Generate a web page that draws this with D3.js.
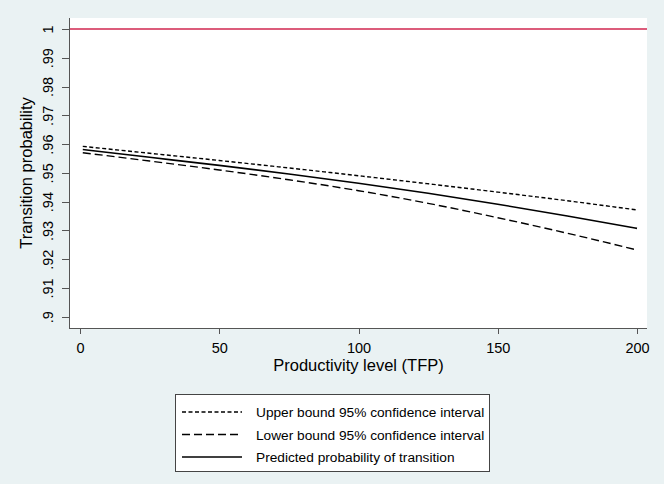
<!DOCTYPE html>
<html lang="en">
<head>
    <meta charset="UTF-8">
    <title>Transition probability</title>
    <script src="https://d3js.org/d3.v7.min.js"></script>
    <style>
        body {
            margin: 0;
            padding: 0;
            background: #eaf2f3;
            font-family: "Liberation Sans", Arial, sans-serif;
        }
        svg {
            display: block;
        }
        .axis path,
        .axis line {
            stroke: #555;
            shape-rendering: crispEdges;
        }
        .axis text {
            font-family: "Liberation Sans", Arial, sans-serif;
            font-size: 14.5px;
            fill: #000;
        }
        .label {
            font-size: 16.5px;
            text-anchor: middle;
        }
    </style>
</head>
<body>
    <svg width="664" height="484"></svg>

    <script>
        const tfp = [1, 25, 50, 75, 100, 125, 150, 175, 200];
        const upper = [0.9592, 0.9568, 0.9543, 0.9517, 0.9490, 0.9462, 0.9433, 0.9403, 0.9371];
        const lower = [0.9570, 0.9541, 0.9510, 0.9476, 0.9438, 0.9394, 0.9344, 0.9290, 0.9232];
        const predicted = [0.9581, 0.9554, 0.9526, 0.9496, 0.9464, 0.9429, 0.9391, 0.9350, 0.9307];

        const xTicks = [0, 50, 100, 150, 200];
        const yTicks = [0.9, 0.91, 0.92, 0.93, 0.94, 0.95, 0.96, 0.97, 0.98, 0.99, 1];
        const yTickLabels = [".9", ".91", ".92", ".93", ".94", ".95", ".96", ".97", ".98", ".99", "1"];

        const seriesNames = [
            "Upper bound 95% confidence interval",
            "Lower bound 95% confidence interval",
            "Predicted probability of transition"
        ];
        const dashes = ["4,2.5", "8,4", null];
        const widths = [1.4, 1.4, 1.6];

        const plot = { left: 69, right: 647, top: 18, bottom: 328 };

        const svg = d3.select("svg");

        const x = d3.scaleLinear().domain([0, 200]).range([80, 637]);
        const y = d3.scaleLinear().domain([0.9, 1]).range([316.7, 29]);

        // plot region
        svg.append("rect")
            .attr("x", plot.left)
            .attr("y", plot.top)
            .attr("width", plot.right - plot.left)
            .attr("height", plot.bottom - plot.top)
            .attr("fill", "#fff");

        // axes
        const yAxis = svg.append("g")
            .attr("class", "axis")
            .attr("transform", `translate(${plot.left},0)`)
            .call(d3.axisLeft(y).tickValues(yTicks)
                .tickFormat((d, i) => yTickLabels[i])
                .tickSize(7).tickSizeOuter(0));
        yAxis.select(".domain").attr("d", `M0.5,${plot.top}V${plot.bottom}`);
        yAxis.selectAll(".tick text")
            .attr("transform", "rotate(-90)")
            .attr("x", 0)
            .attr("y", -16.5)
            .attr("dy", 0)
            .style("text-anchor", "middle");

        const xAxis = svg.append("g")
            .attr("class", "axis")
            .attr("transform", `translate(0,${plot.bottom})`)
            .call(d3.axisBottom(x).tickValues(xTicks)
                .tickFormat(d3.format("d"))
                .tickSize(6).tickSizeOuter(0));
        xAxis.select(".domain").attr("d", `M${plot.left},0.5H${plot.right}`);
        xAxis.selectAll(".tick text").attr("y", 15);

        // axis titles
        svg.append("text")
            .attr("class", "label")
            .attr("transform", `translate(32,${(plot.top + plot.bottom) / 2}) rotate(-90)`)
            .text("Transition probability");

        svg.append("text")
            .attr("class", "label")
            .attr("x", x(100))
            .attr("y", 371)
            .text("Productivity level (TFP)");

        // reference line at 1
        svg.append("line")
            .attr("x1", plot.left + 1)
            .attr("x2", plot.right)
            .attr("y1", y(1))
            .attr("y2", y(1))
            .attr("stroke", "#d0264f")
            .attr("stroke-width", 1.6);

        // series
        const series = [upper, lower, predicted];
        const line = d3.line()
            .x((d, i) => x(tfp[i]))
            .y(d => y(d))
            .curve(d3.curveMonotoneX);

        series.forEach((s, k) => {
            svg.append("path")
                .datum(s)
                .attr("fill", "none")
                .attr("stroke", "#000")
                .attr("stroke-width", widths[k])
                .attr("stroke-dasharray", dashes[k])
                .attr("d", line);
        });

        // legend
        const legend = svg.append("g");
        legend.append("rect")
            .attr("x", 175.5)
            .attr("y", 394.5)
            .attr("width", 314)
            .attr("height", 77)
            .attr("fill", "#fff")
            .attr("stroke", "#444");

        seriesNames.forEach((name, k) => {
            const ly = 412 + k * 22.5;
            legend.append("line")
                .attr("x1", 182)
                .attr("x2", 242)
                .attr("y1", ly)
                .attr("y2", ly)
                .attr("stroke", "#000")
                .attr("stroke-width", widths[k])
                .attr("stroke-dasharray", dashes[k]);
            legend.append("text")
                .attr("x", 256)
                .attr("y", ly + 5)
                .style("font-size", "13.7px")
                .text(name);
        });
    </script>
</body>
</html>
